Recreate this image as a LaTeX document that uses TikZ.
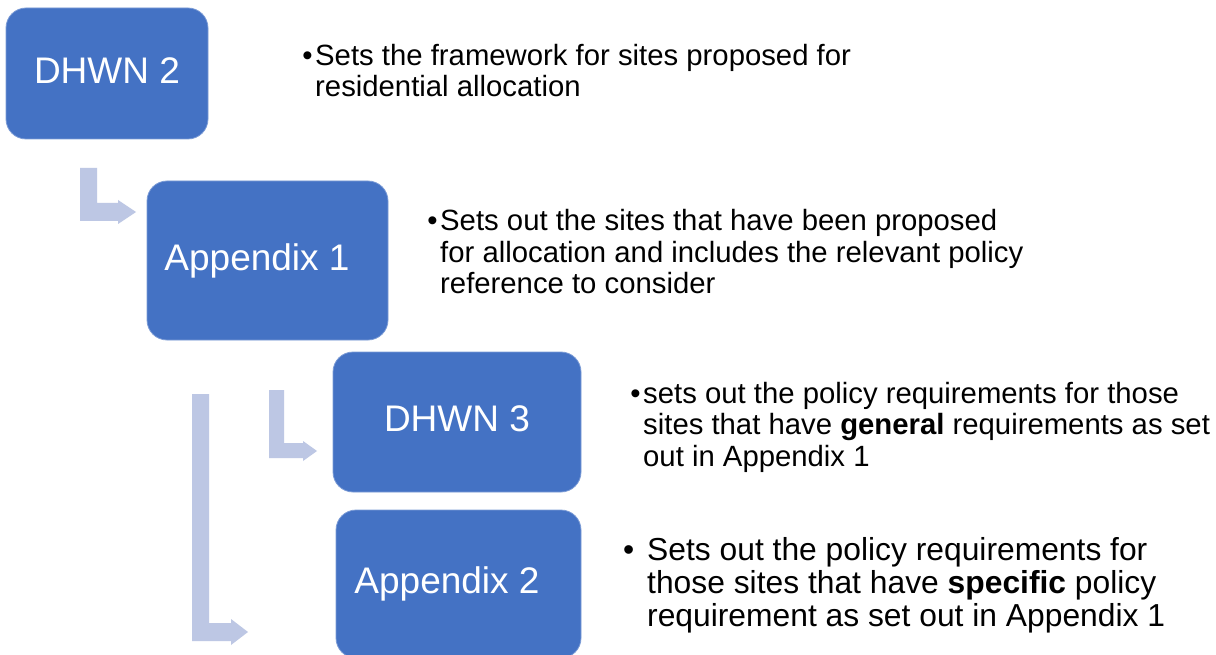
\documentclass[tikz,border=0pt]{standalone}
\usepackage{fontspec}
\setmainfont{Liberation Sans}
\definecolor{boxblue}{HTML}{4472C4}
\definecolor{arrowblue}{HTML}{BDC7E4}
\tikzset{
  stepbox/.style={rounded corners=20pt, fill=boxblue, draw=boxblue!70!white, line width=0.8pt,
    text=white, font=\fontsize{37}{44}\selectfont, inner sep=0pt,
    text height=26.6pt, text depth=7.4pt},
  bentarrow/.style={fill=arrowblue, draw=none},
  note/.style={anchor=base west, inner sep=0pt, align=left},
  notefont/.style={font=\fontsize{29.3}{31.5}\selectfont},
}
\begin{document}
\begin{tikzpicture}[x=1pt,y=-1pt]
\useasboundingbox (0,0) rectangle (1216,655);
\fill[white] (0,0) rectangle (1216,655);
\clip (0,0) rectangle (1216,655);

% bent arrows
\fill[bentarrow] (80,168) -- (97,168) -- (97,203) -- (118,203) -- (118,200) -- (136,212)
  -- (118,224) -- (118,221) -- (80,221) -- cycle;
\fill[bentarrow] (269,390) -- (284,390) -- (284,443) -- (303,443) -- (303,441) -- (317,451)
  -- (303,461) -- (303,458) -- (269,458) -- cycle;
\fill[bentarrow] (192,394) -- (209,394) -- (209,623) -- (231,623) -- (231,619) -- (248,632)
  -- (231,645) -- (231,641) -- (192,641) -- cycle;

% boxes
\node[stepbox, minimum width=202pt, minimum height=131pt] (dhwn2) at (107,73.5) {DHWN 2};
\node[stepbox, minimum width=241pt, minimum height=159pt] (app1) at (267.5,260.5) {Appendix 1\hspace*{21pt}\mbox{}};
\node[stepbox, minimum width=248pt, minimum height=140pt] (dhwn3) at (457,422) {DHWN 3};
\node[stepbox, minimum width=245pt, minimum height=148pt] (app2) at (458.5,584) {Appendix 2\hspace*{23pt}\mbox{}};

% notes
\node[note, font=\fontsize{29.3}{30.5}\selectfont] (t1) at (315,66)
  {\begin{tabular}[t]{@{}l@{}}\llap{•\hspace{2.5pt}}Sets the framework for sites proposed for\\residential allocation\end{tabular}};
\node[note, notefont] (t2) at (440,231)
  {\begin{tabular}[t]{@{}l@{}}\llap{•\hspace{2.5pt}}Sets out the sites that have been proposed\\for allocation and includes the relevant policy\\reference to consider\end{tabular}};
\node[note, notefont] (t3) at (643,403)
  {\begin{tabular}[t]{@{}l@{}}\llap{•\hspace{2.5pt}}sets out the policy requirements for those\\sites that have \textbf{general} requirements as set\\out in Appendix 1\end{tabular}};
\node[note, font=\fontsize{31.8}{33}\selectfont] (t4) at (647,560)
  {\begin{tabular}[t]{@{}l@{}}\llap{•\hspace{13pt}}Sets out the policy requirements for\\those sites that have \textbf{specific} policy\\requirement as set out in Appendix 1\end{tabular}};
\end{tikzpicture}
\end{document}
